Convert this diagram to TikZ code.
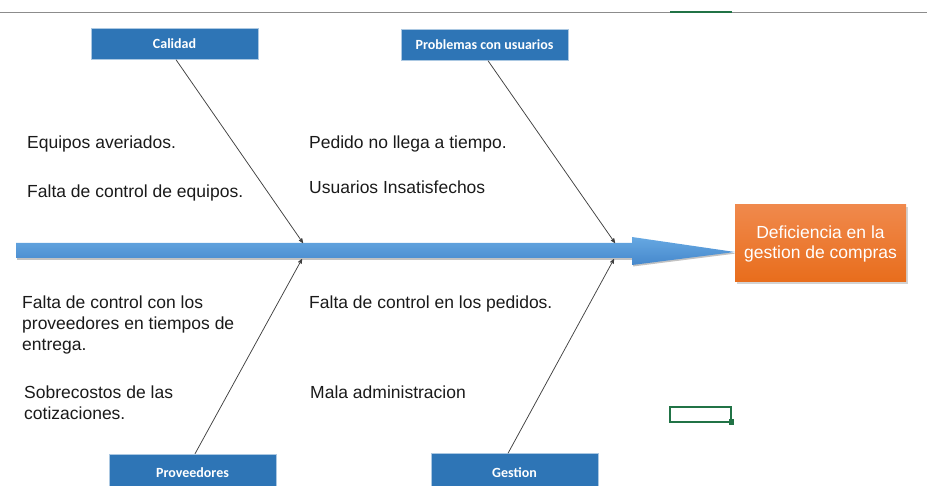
\documentclass[tikz,border=0pt]{standalone}
\usepackage{fontspec}
\setmainfont{Liberation Sans}
\newfontfamily\boxfont{Carlito}
\usepackage{tikz}
\usetikzlibrary{arrows,shapes,shadows}
\usetikzlibrary{positioning}
\definecolor{catblue}{HTML}{2E75B6}
\definecolor{spinetop}{HTML}{66A8E2}
\definecolor{spinebot}{HTML}{4688CC}
\definecolor{efftop}{HTML}{F0894C}
\definecolor{effbot}{HTML}{E86D1C}
\definecolor{xlgreen}{HTML}{217346}
\definecolor{txt}{HTML}{1A1A1A}
\tikzstyle{cat} = [rectangle, fill=catblue, draw=catblue!40, minimum width=167pt, minimum height=31pt, inner sep=0pt, text=white, font=\boxfont\bfseries\fontsize{14}{16}\selectfont]
\tikzstyle{cause} = [anchor=north west, inner sep=0pt, align=left, text=txt, font=\fontsize{17.5}{21}\selectfont]
\tikzstyle{effect} = [rectangle, top color=efftop, bottom color=effbot, minimum width=171pt, minimum height=77pt, align=center, text=white, font=\fontsize{17.5}{20}\selectfont, drop shadow={opacity=0.35, shadow xshift=2pt, shadow yshift=-2pt}]
\tikzstyle{arrow} = [line width=0.75pt, draw=black!75, ->, >=stealth']

\begin{document}
\begin{tikzpicture}[x=1pt, y=-1pt]
\useasboundingbox (0,0) rectangle (927,486);
% sheet marks
\draw[black!45] (0,12) -- (927,12);
\draw[xlgreen, line width=1.5pt] (670,12) -- (732,12);
\draw[xlgreen, line width=1.5pt] (670,407) rectangle (731,422);
\fill[xlgreen] (728.5,419.5) rectangle (734,425);
% spine
\fill[black!60, opacity=0.4] (17,245) -- (633,245) -- (633,239) -- (736,253.5) -- (633,266.5) -- (633,260) -- (17,260) -- cycle;
\path[top color=spinetop, bottom color=spinebot] (16,243) -- (632,243) -- (632,237) -- (735,252) -- (632,265) -- (632,258) -- (16,258) -- cycle;
\coordinate (k1) at (303,243);
\coordinate (k2) at (302,259);
\coordinate (k3) at (615,243);
\coordinate (k4) at (614,259);
% effect
\node[effect] (eff) at (820.5,243.5) {Deficiencia en la\\gestion de compras};
% categories
\node[cat] (cal) at (174.5,44) {Calidad};
\node[cat] (prob) at (484.5,45) {Problemas con usuarios};
\node[cat, minimum height=38pt] (prov) at (192.5,473) {Proveedores};
\node[cat, minimum height=38pt] (ges) at (514.5,472.5) {Gestion};
\draw[arrow] ([xshift=1.5pt]cal.south) -- (k1);
\draw[arrow] ([xshift=3.5pt]prob.south) -- (k3);
\draw[arrow] ([xshift=2.5pt]prov.north) -- (k2);
\draw[arrow] ([xshift=-6.5pt]ges.north) -- (k4);
% causes
\node[cause] (c1) at (27,136) {Equipos averiados.};
\node[cause] (c2) at (27,185) {Falta de control de equipos.};
\node[cause] (c3) at (309,136) {Pedido no llega a tiempo.};
\node[cause] (c4) at (309,181) {Usuarios Insatisfechos};
\node[cause] (c5) at (22,296) {Falta de control con los\\proveedores en tiempos de\\entrega.};
\node[cause] (c6) at (24,386) {Sobrecostos de las\\cotizaciones.};
\node[cause] (c7) at (309,296) {Falta de control en los pedidos.};
\node[cause] (c8) at (310,386) {Mala administracion};
\end{tikzpicture}
\end{document}
